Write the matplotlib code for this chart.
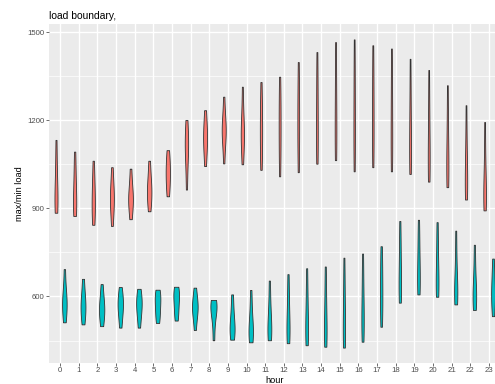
import matplotlib.pyplot as plt
import numpy as np
from matplotlib import cbook, mlab

hours = list(range(24))

# daily max load per hour (summary points)
max_load = [
    [885, 900, 920, 950, 990, 1050, 1133],
    [874, 890, 910, 940, 980, 1030, 1093],
    [844, 870, 900, 930, 960, 1000, 1062],
    [840, 890, 915, 935, 955, 985, 1040],
    [863, 900, 920, 935, 950, 980, 1035],
    [890, 920, 945, 960, 980, 1010, 1062],
    [941, 970, 1000, 1020, 1040, 1070, 1098],
    [964, 1040, 1090, 1110, 1130, 1160, 1201],
    [1044, 1090, 1120, 1140, 1160, 1190, 1234],
    [1053, 1130, 1150, 1165, 1180, 1205, 1280],
    [1050, 1110, 1140, 1155, 1175, 1220, 1314],
    [1031, 1080, 1130, 1170, 1210, 1260, 1330],
    [1009, 1070, 1130, 1180, 1230, 1290, 1348],
    [1023, 1080, 1150, 1200, 1250, 1320, 1398],
    [1052, 1090, 1140, 1200, 1270, 1350, 1432],
    [1064, 1100, 1150, 1210, 1280, 1370, 1466],
    [1026, 1080, 1140, 1210, 1290, 1380, 1475],
    [1040, 1090, 1150, 1220, 1290, 1370, 1455],
    [1026, 1070, 1120, 1190, 1260, 1350, 1444],
    [1017, 1050, 1090, 1140, 1210, 1300, 1409],
    [991, 1020, 1060, 1100, 1170, 1260, 1371],
    [972, 1000, 1030, 1070, 1130, 1210, 1319],
    [930, 955, 980, 1010, 1060, 1140, 1251],
    [893, 910, 935, 960, 1000, 1080, 1194],
]

# daily min load per hour
min_load = [
    [512, 540, 565, 580, 595, 625, 693],
    [505, 530, 555, 570, 585, 615, 660],
    [499, 525, 545, 560, 575, 600, 642],
    [494, 530, 555, 570, 585, 605, 632],
    [494, 530, 555, 570, 585, 605, 626],
    [510, 530, 555, 575, 595, 610, 623],
    [518, 540, 565, 590, 605, 620, 633],
    [486, 530, 550, 563, 575, 595, 630],
    [451, 510, 545, 560, 570, 580, 588],
    [453, 470, 485, 500, 520, 560, 607],
    [444, 460, 475, 490, 515, 560, 622],
    [451, 465, 480, 500, 530, 580, 654],
    [441, 460, 480, 510, 550, 610, 676],
    [434, 455, 480, 510, 560, 620, 696],
    [429, 450, 475, 510, 560, 630, 702],
    [426, 450, 480, 520, 580, 650, 732],
    [446, 480, 510, 545, 600, 670, 746],
    [497, 540, 580, 620, 670, 720, 771],
    [579, 600, 630, 670, 720, 790, 857],
    [607, 625, 650, 690, 740, 800, 861],
    [599, 615, 640, 670, 720, 790, 853],
    [573, 590, 605, 625, 660, 730, 824],
    [554, 575, 595, 610, 640, 700, 776],
    [533, 570, 595, 615, 640, 680, 729],
]

plt.rcParams['font.family'] = ['Liberation Sans', 'DejaVu Sans']


def kde(x, coords):
    return mlab.GaussianKDE(x, 'scott').evaluate(coords)


max_stats = cbook.violin_stats(max_load, kde)
min_stats = cbook.violin_stats(min_load, kde)
peak = max(s['vals'].max() for s in max_stats + min_stats)

fig = plt.figure(figsize=(4.95, 3.84), dpi=100)
ax = fig.add_axes([49/495, 21/384, 451/495, 339/384])
ax.set_facecolor('#EBEBEB')

for stats, off, col in [(max_stats, -0.225, '#F8766D'), (min_stats, 0.225, '#00BFC4')]:
    pos = np.array(hours) + off
    w = [0.33 * s['vals'].max() / peak for s in stats]
    parts = ax.violin(stats, positions=pos, widths=w,
                      showmeans=False, showextrema=False, showmedians=False)
    for b in parts['bodies']:
        b.set_facecolor(col)
        b.set_edgecolor('#333333')
        b.set_linewidth(0.6)
        b.set_alpha(1)
        b.set_zorder(3)

allv = np.concatenate([np.ravel(max_load), np.ravel(min_load)])
lo, hi = allv.min(), allv.max()
pad = (hi - lo) * 0.05
ax.set_ylim(lo - pad, hi + pad)
ax.set_xlim(-0.6, 23.6)

ax.set_xticks(hours)
ax.set_xticklabels([str(h) for h in hours])
ax.set_yticks([600, 900, 1200, 1500])
ax.set_yticks([450, 750, 1050, 1350], minor=True)
ax.grid(which='major', color='white', linewidth=1.0)
ax.grid(which='minor', axis='y', color='white', linewidth=0.5)
ax.set_axisbelow(True)
for s in ax.spines.values():
    s.set_visible(False)
ax.tick_params(which='major', length=2.2, width=0.5, color='#333333',
               labelsize=5.6, labelcolor='#4D4D4D', pad=1)
ax.tick_params(which='minor', length=0)

ax.set_xlabel('hour', fontsize=6.6, va='baseline')
ax.xaxis.set_label_coords(0.5, -0.059)
ax.set_ylabel('max/min load', fontsize=6.6)
ax.yaxis.set_label_coords(-0.055, 0.5)
ax.set_title('load boundary,', loc='left', fontsize=7.4, pad=3.6)

fig.savefig('out.png', dpi=100)
